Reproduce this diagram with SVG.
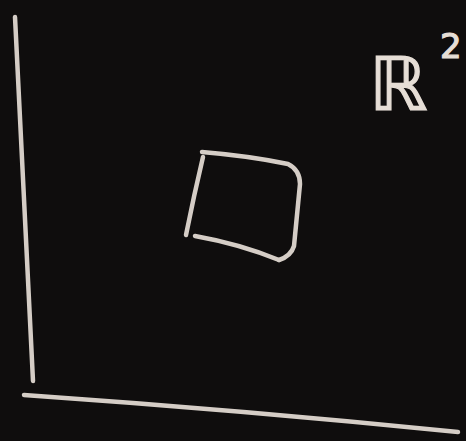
<svg xmlns="http://www.w3.org/2000/svg" width="466" height="441" viewBox="0 0 466 441">
<style>
.chalk{fill:none;stroke:#e6ded6;stroke-width:4.5;stroke-linecap:round;stroke-linejoin:round;opacity:0.92}
.lbl{fill:#e6ded6;stroke:#e6ded6;stroke-width:1.2;font-family:"DejaVu Sans",sans-serif}
</style>
<rect width="466" height="441" fill="#0f0d0d"/>
<g id="axes" class="chalk">
<path d="M15 17 Q24 200 33 381"/>
<path d="M24 395 Q240 410 458 432"/>
</g>
<g id="square" class="chalk">
<path d="M202 152 Q250 156 288 164 Q300 170 300 184 L294 246 Q291 256 279 260"/>
<path d="M203 157 Q194 195 186 235"/>
<path d="M195 236 Q240 244 279 260"/>
</g>
<g id="label">
<text class="lbl" x="369" y="110" font-size="74">ℝ</text>
<text class="lbl" x="440" y="58" font-size="34">2</text>
</g>
</svg>
